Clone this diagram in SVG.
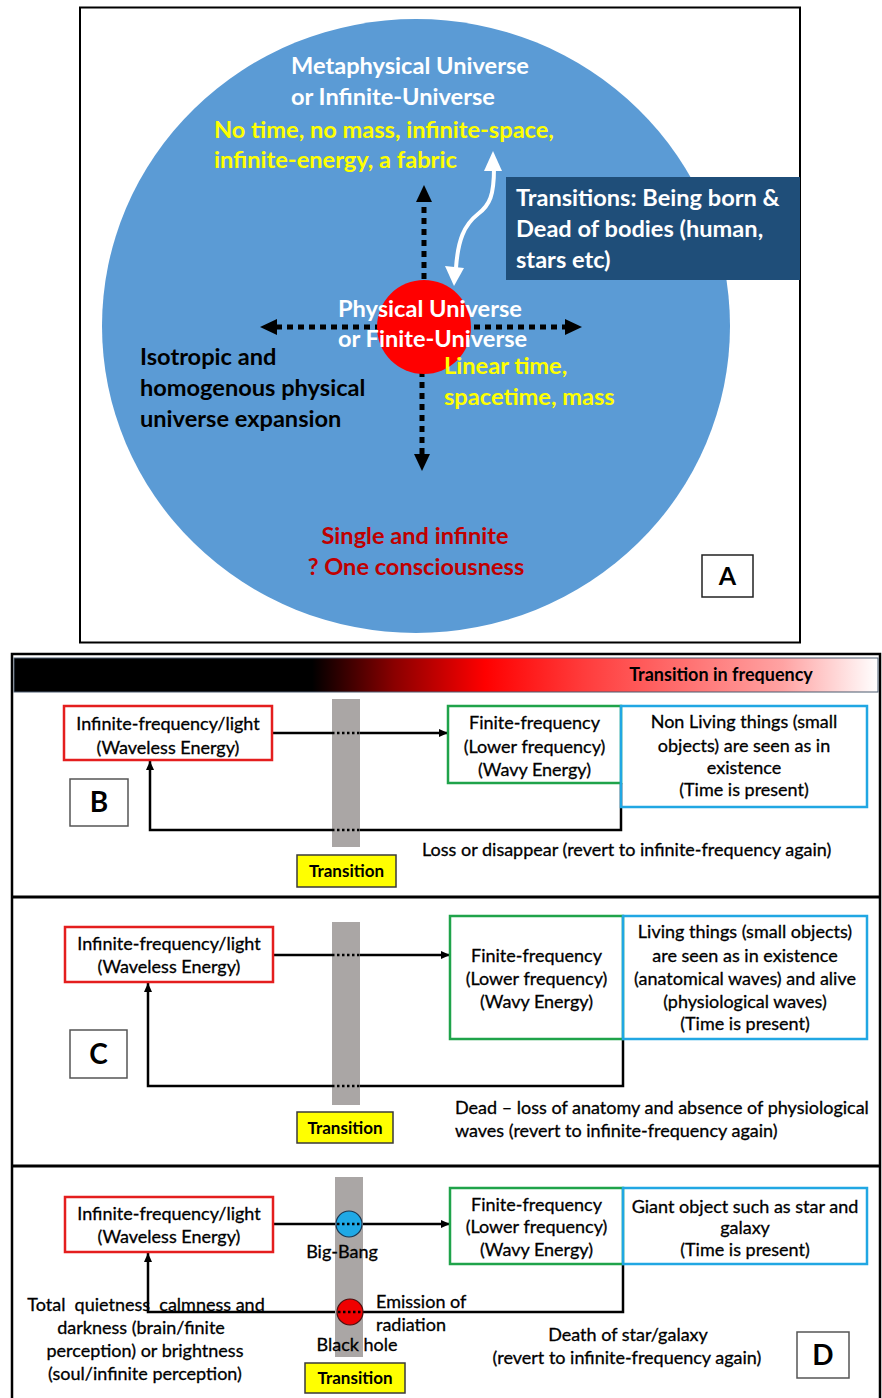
<svg xmlns="http://www.w3.org/2000/svg" width="882" height="1398" viewBox="0 0 882 1398">
<defs>
<linearGradient id="freq" x1="0" y1="0" x2="1" y2="0">
<stop offset="0" stop-color="#000"/>
<stop offset="0.345" stop-color="#000"/>
<stop offset="0.44" stop-color="#8a0000"/>
<stop offset="0.545" stop-color="#ff0000"/>
<stop offset="0.66" stop-color="#ff3c3c"/>
<stop offset="0.89" stop-color="#ffa3a3"/>
<stop offset="1" stop-color="#fff"/>
</linearGradient>
<marker id="ah" markerWidth="10" markerHeight="10" refX="9" refY="5" orient="auto" markerUnits="userSpaceOnUse">
<path d="M0,1 L9,5 L0,9 Z" fill="#000"/>
</marker>
<style>
.bw{font-family:Lato,"Liberation Sans",sans-serif;font-weight:bold;fill:#fff;font-size:23.6px}
.by{font-family:Lato,"Liberation Sans",sans-serif;font-weight:bold;fill:#ffff00;font-size:23.6px}
.bk{font-family:Lato,"Liberation Sans",sans-serif;font-weight:bold;fill:#000;font-size:23.6px}
.br{font-family:Lato,"Liberation Sans",sans-serif;font-weight:bold;fill:#c00000;font-size:23.6px}
.t{font-family:Lato,"Liberation Sans",sans-serif;fill:#000;font-size:18px;stroke:#000;stroke-width:0.3}
.tc{font-family:Lato,"Liberation Sans",sans-serif;fill:#000;font-size:18px;text-anchor:middle;stroke:#000;stroke-width:0.3}
.tb{font-family:Lato,"Liberation Sans",sans-serif;font-weight:bold;fill:#000;text-anchor:middle}
.dot{stroke:#000;stroke-width:5;stroke-dasharray:6 5;fill:none}
.ln{stroke:#000;stroke-width:2.5;fill:none}
.dl{stroke:#000;stroke-width:2.5;stroke-dasharray:2.5 2.5;fill:none}
.rbox{fill:#fff;stroke:#e41e1e;stroke-width:2.5}
.gbox{fill:#fff;stroke:#1fa34a;stroke-width:2.5}
.cbox{fill:none;stroke:#21a7e3;stroke-width:2.5}
.bar{fill:#aaa6a5}
.trn{fill:#ffff00;stroke:#3a3a3a;stroke-width:1.5}
.lbl{fill:#fff;stroke:#555;stroke-width:1.5}
</style>
</defs>
<rect x="0" y="0" width="882" height="1398" fill="#fff"/>

<!-- Panel A -->
<g id="panelA">
<rect x="80" y="7.5" width="720" height="635" fill="#fff" stroke="#000" stroke-width="2"/>
<ellipse id="metaverse" cx="416" cy="326" rx="314" ry="307" fill="#5b9bd5"/>
<g id="transitions-box">
<rect x="506" y="177" width="294" height="103" fill="#1f4e79"/>
<text class="bw" x="516" y="206" font-size="21.7">Transitions: Being born &amp;</text>
<text class="bw" x="516" y="237" font-size="21.7">Dead of bodies (human,</text>
<text class="bw" x="516" y="268" font-size="21.7">stars etc)</text>
</g>
<g id="connectorsA">
<line class="dot" x1="424" y1="290" x2="424" y2="200"/>
<polygon points="424,185 416,202 432,202" fill="#000"/>
<line class="dot" x1="422" y1="360" x2="422" y2="455"/>
<polygon points="422,471 414,454 430,454" fill="#000"/>
<line class="dot" x1="276" y1="327" x2="566" y2="327"/>
<polygon points="260,327 277,319 277,335" fill="#000"/>
<polygon points="582,327 565,319 565,335" fill="#000"/>
<path d="M494,168 C494,195 490,205 478,214 C464,225 458,240 456,268" fill="none" stroke="#fff" stroke-width="4"/>
<polygon points="493,151 484,171 502,171" fill="#fff"/>
<polygon points="454,286 445,266 464,268" fill="#fff"/>
</g>
<circle id="physical" cx="424" cy="327" r="47" fill="#ff0000"/>
<g id="labelsA">
<text class="bw" x="291" y="74">Metaphysical Universe</text>
<text class="bw" x="291" y="105">or Infinite-Universe</text>
<text class="by" x="214" y="138">No time, no mass, infinite-space,</text>
<text class="by" x="214" y="168">infinite-energy, a fabric</text>
<text class="bw" x="338" y="317">Physical Universe</text>
<text class="bw" x="338" y="347">or Finite-Universe</text>
<text class="by" x="444" y="374">Linear time,</text>
<text class="by" x="444" y="405">spacetime, mass</text>
<text class="bk" x="140" y="365">Isotropic and</text>
<text class="bk" x="140" y="396">homogenous physical</text>
<text class="bk" x="140" y="427">universe expansion</text>
<text class="br" x="415" y="544" text-anchor="middle">Single and infinite</text>
<text class="br" x="416" y="575" text-anchor="middle">? One consciousness</text>
</g>
<g id="labelA">
<rect x="702" y="555" width="51" height="42" fill="#fff" stroke="#222" stroke-width="1.5"/>
<text class="tb" x="727.5" y="585" font-size="25">A</text>
</g>
</g>

<!-- Lower frame -->
<g id="frame">
<rect x="12" y="654" width="868" height="750" fill="#fff" stroke="#000" stroke-width="2.5"/>
<line x1="12" y1="897" x2="880" y2="897" stroke="#000" stroke-width="3"/>
<line x1="12" y1="1166" x2="880" y2="1166" stroke="#000" stroke-width="3"/>
</g>
<g id="freq-bar">
<rect x="14" y="658" width="864" height="34" fill="url(#freq)" stroke="#4a5a6e" stroke-width="1"/>
<text class="tb" x="721" y="681" font-size="18" fill="#1a1a1a">Transition in frequency</text>
</g>

<!-- Panel B -->
<g id="panelB">
<g id="connectorsB">
<line class="ln" x1="272" y1="733" x2="448" y2="733" marker-end="url(#ah)"/>
<polyline class="ln" points="621,783 621,830 150,830 150,761" marker-end="url(#ah)"/>
</g>
<g id="transitionB">
<rect class="bar" x="332" y="699" width="28" height="148"/>
<line class="dl" x1="332" y1="733" x2="360" y2="733"/>
<line class="dl" x1="332" y1="830" x2="360" y2="830"/>
<rect class="trn" x="297" y="855" width="99" height="32"/>
<text class="tb" x="346.5" y="877" font-size="17">Transition</text>
</g>
<g id="infiniteB">
<rect class="rbox" x="64" y="706" width="208" height="54"/>
<text class="tc" x="168" y="730">Infinite-frequency/light</text>
<text class="tc" x="168" y="754">(Waveless Energy)</text>
</g>
<g id="finiteB">
<rect class="gbox" x="448" y="706" width="173" height="77"/>
<text class="tc" x="534.5" y="729">Finite-frequency</text>
<text class="tc" x="534.5" y="753">(Lower frequency)</text>
<text class="tc" x="534.5" y="776">(Wavy Energy)</text>
</g>
<g id="thingsB">
<rect class="cbox" x="621" y="706" width="246" height="101"/>
<text class="tc" x="744" y="728">Non Living things (small</text>
<text class="tc" x="744" y="752">objects) are seen as in</text>
<text class="tc" x="744" y="774">existence</text>
<text class="tc" x="744" y="796">(Time is present)</text>
</g>
<text class="t" x="422" y="856">Loss or disappear (revert to infinite-frequency again)</text>
<g id="labelB">
<rect class="lbl" x="70" y="779" width="58" height="47"/>
<text class="tb" x="99" y="812" font-size="28">B</text>
</g>
</g>

<!-- Panel C -->
<g id="panelC">
<g id="connectorsC">
<line class="ln" x1="273" y1="955" x2="450" y2="955" marker-end="url(#ah)"/>
<polyline class="ln" points="623,1039 623,1086 148,1086 148,983" marker-end="url(#ah)"/>
</g>
<g id="transitionC">
<rect class="bar" x="332" y="922" width="28" height="183"/>
<line class="dl" x1="332" y1="955" x2="360" y2="955"/>
<line class="dl" x1="332" y1="1086" x2="360" y2="1086"/>
<rect class="trn" x="297" y="1112" width="96" height="31"/>
<text class="tb" x="345" y="1134" font-size="17">Transition</text>
</g>
<g id="infiniteC">
<rect class="rbox" x="65" y="927" width="208" height="55"/>
<text class="tc" x="169" y="950">Infinite-frequency/light</text>
<text class="tc" x="169" y="973">(Waveless Energy)</text>
</g>
<g id="finiteC">
<rect class="gbox" x="450" y="916" width="173" height="123"/>
<text class="tc" x="536.5" y="962">Finite-frequency</text>
<text class="tc" x="536.5" y="985">(Lower frequency)</text>
<text class="tc" x="536.5" y="1008">(Wavy Energy)</text>
</g>
<g id="thingsC">
<rect class="cbox" x="623" y="916" width="244" height="123"/>
<text class="tc" x="745" y="938">Living things (small objects)</text>
<text class="tc" x="745" y="962">are seen as in existence</text>
<text class="tc" x="745" y="985">(anatomical waves) and alive</text>
<text class="tc" x="745" y="1008">(physiological waves)</text>
<text class="tc" x="745" y="1030">(Time is present)</text>
</g>
<text class="t" x="455" y="1114">Dead – loss of anatomy and absence of physiological</text>
<text class="t" x="455" y="1137">waves (revert to infinite-frequency again)</text>
<g id="labelC">
<rect class="lbl" x="70" y="1030" width="57" height="48"/>
<text class="tb" x="98.5" y="1064" font-size="28">C</text>
</g>
</g>

<!-- Panel D -->
<g id="panelD">
<g id="connectorsD">
<line class="ln" x1="273" y1="1224" x2="450" y2="1224" marker-end="url(#ah)"/>
<polyline class="ln" points="623,1264 623,1312 148,1312 148,1253" marker-end="url(#ah)"/>
</g>
<g id="transitionD">
<rect class="bar" x="335" y="1177" width="28" height="180"/>
<rect class="trn" x="305" y="1363" width="100" height="30"/>
<text class="tb" x="355" y="1384" font-size="17">Transition</text>
</g>
<g id="bigbang">
<circle cx="349" cy="1224" r="13" fill="#1fa9e6" stroke="#1a3550" stroke-width="1.2"/>
<line class="dl" x1="337" y1="1224" x2="361" y2="1224"/>
<text class="tc" x="342" y="1258">Big-Bang</text>
</g>
<g id="blackhole">
<circle cx="350" cy="1312" r="13" fill="#f00000" stroke="#4a1010" stroke-width="1.2"/>
<line class="dl" x1="338" y1="1312" x2="362" y2="1312"/>
<text class="tc" x="357" y="1351">Black hole</text>
</g>
<text class="t" x="376" y="1308">Emission of</text>
<text class="t" x="376" y="1331">radiation</text>
<g id="infiniteD">
<rect class="rbox" x="65" y="1197" width="208" height="55"/>
<text class="tc" x="169" y="1220">Infinite-frequency/light</text>
<text class="tc" x="169" y="1243">(Waveless Energy)</text>
</g>
<g id="finiteD">
<rect class="gbox" x="450" y="1188" width="173" height="76"/>
<text class="tc" x="536.5" y="1211">Finite-frequency</text>
<text class="tc" x="536.5" y="1233">(Lower frequency)</text>
<text class="tc" x="536.5" y="1256">(Wavy Energy)</text>
</g>
<g id="thingsD">
<rect class="cbox" x="623" y="1188" width="244" height="76"/>
<text class="tc" x="745" y="1213">Giant object such as star and</text>
<text class="tc" x="745" y="1234">galaxy</text>
<text class="tc" x="745" y="1256">(Time is present)</text>
</g>
<g id="perception-note">
<text class="tc" x="146" y="1311" xml:space="preserve">Total  quietness  calmness and</text>
<text class="tc" x="141" y="1334">darkness (brain/finite</text>
<text class="tc" x="145" y="1357">perception) or brightness</text>
<text class="tc" x="145" y="1380">(soul/infinite perception)</text>
</g>
<text class="tc" x="628" y="1341">Death of star/galaxy</text>
<text class="tc" x="627" y="1364">(revert to infinite-frequency again)</text>
<g id="labelD">
<rect class="lbl" x="797" y="1332" width="52" height="46"/>
<text class="tb" x="823" y="1365" font-size="28">D</text>
</g>
</g>
</svg>
